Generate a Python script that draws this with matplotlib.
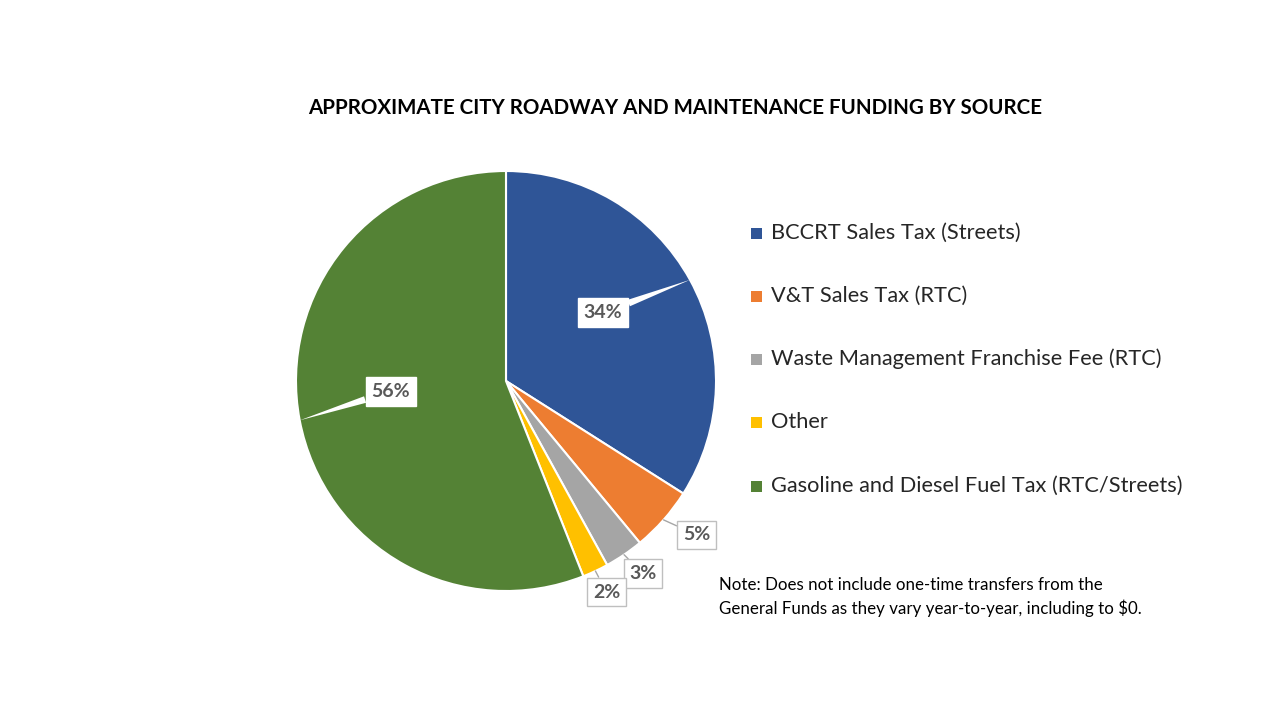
import numpy as np
import matplotlib
matplotlib.use("Agg")
import matplotlib.pyplot as plt
from matplotlib.patches import Rectangle

plt.rcParams['font.family'] = ['Lato', 'DejaVu Sans']

title = "APPROXIMATE CITY ROADWAY AND MAINTENANCE FUNDING BY SOURCE"
categories = ["BCCRT Sales Tax (Streets)", "V&T Sales Tax (RTC)",
              "Waste Management Franchise Fee (RTC)", "Other",
              "Gasoline and Diesel Fuel Tax (RTC/Streets)"]
values = [34, 5, 3, 2, 56]
labels = ["34%", "5%", "3%", "2%", "56%"]
colors = ["#2F5597", "#ED7D31", "#A5A5A5", "#FFC000", "#548235"]
note = "Note: Does not include one-time transfers from the\nGeneral Funds as they vary year-to-year, including to $0."

W, H = 1280, 720
fig = plt.figure(figsize=(12.8, 7.2), dpi=100)
ax = fig.add_axes([0, 0, 1, 1])

cx, cy, R = 506, H - 381, 210
wedges, _ = ax.pie(values, colors=colors, startangle=90, counterclock=False,
                   center=(cx, cy), radius=R,
                   wedgeprops=dict(edgecolor="white", linewidth=1.5))
ax.set_xlim(0, W)
ax.set_ylim(0, H)
ax.set_aspect("equal")
ax.axis("off")

# label offsets (pixels, relative to edge midpoint) and styles
offsets = [(-87, -33), (33, -15), (19, -19), (11, -21), (91, 29)]
big = [True, False, False, False, True]
for w, lab, off, b in zip(wedges, labels, offsets, big):
    mid = np.deg2rad((w.theta1 + w.theta2) / 2)
    ex, ey = cx + R * np.cos(mid), cy + R * np.sin(mid)
    tx, ty = ex + off[0], ey + off[1]
    if b:
        ap = dict(arrowstyle="wedge,tail_width=0.35,shrink_factor=0.5",
                  color="white", lw=0, shrinkA=0, shrinkB=0)
        ax.annotate(lab, xy=(ex, ey), xytext=(tx, ty), ha="center", va="center",
                    fontsize=14, fontweight="bold", color="#595959",
                    bbox=dict(boxstyle="square,pad=0.3", fc="white", ec="white", lw=1),
                    arrowprops=ap, zorder=5)
    else:
        ap = dict(arrowstyle="-", color="#A6A6A6", lw=1, shrinkA=0, shrinkB=0)
        ax.annotate(lab, xy=(ex, ey), xytext=(tx, ty), ha="center", va="center",
                    fontsize=14, fontweight="bold", color="#595959",
                    bbox=dict(boxstyle="square,pad=0.3", fc="white", ec="#BFBFBF", lw=1),
                    arrowprops=ap, zorder=5)

ax.text(675, H - 108, title, ha="center", va="center", fontsize=14.75,
        fontweight="bold", color="black")

# legend
ys = [233, 296, 359, 422, 486]
for cat, col, y in zip(categories, colors, ys):
    ax.add_patch(Rectangle((751, H - y - 5.5), 11, 11, color=col, lw=0))
    ax.text(771, H - y, cat, ha="left", va="center", fontsize=15.7, color="#262626")

ax.text(719, H - 597, note, ha="left", va="center", fontsize=12.15, color="black",
        linespacing=1.45)

fig.savefig("out.png", dpi=100)
